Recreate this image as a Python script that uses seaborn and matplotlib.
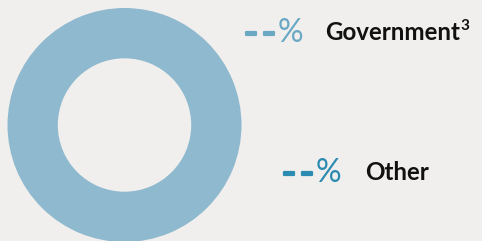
import matplotlib
matplotlib.use("Agg")
import matplotlib.pyplot as plt
import matplotlib.patheffects as pe
import seaborn as sns

# Data
categories = ["Government", "Other"]
category_notes = ["3", ""]
share_labels = ["--", "--"]          # values not yet available (placeholders)
ring_values = [1.0]                   # single placeholder ring
label_colors = ["#6aa8c4", "#2b8bb0"]
ring_color = "#8fb9cf"
bg = "#f0efed"

sns.set_theme(style="white", rc={"figure.facecolor": bg, "axes.facecolor": bg})
plt.rcParams["font.family"] = ["Lato", "DejaVu Sans"]

W, H = 482, 241
fig = plt.figure(figsize=(W / 100, H / 100), dpi=100)

cx, cy, r = 124.5, 125.0, 117.0
ax = fig.add_axes([(cx - r) / W, (H - cy - r) / H, 2 * r / W, 2 * r / H])
ax.pie(ring_values, colors=[ring_color], radius=1.0, startangle=90,
       wedgeprops=dict(width=0.43, edgecolor="none"))
ax.set_xlim(-1, 1)
ax.set_ylim(-1, 1)
ax.set_aspect("equal")
ax.axis("off")

rows_y = [33, 173]
dash_x = [245, 283]
pct_x = [278, 316]
cat_x = [325, 365]
for i, (cat, note, lab, col, y) in enumerate(zip(categories, category_notes,
                                                 share_labels, label_colors, rows_y)):
    fy = 1 - y / H
    x0 = dash_x[i]
    for k, ch in enumerate(lab):
        fig.text((x0 + k * 18) / W, fy, "\u2013", color=col, fontsize=18,
                 fontweight="bold", va="center", ha="left", family="DejaVu Sans",
                 path_effects=[pe.withStroke(linewidth=1.6, foreground=col)])
    fig.text(pct_x[i] / W, fy, "%", color=col, fontsize=23, fontweight="normal",
             va="center", ha="left")
    fig.text(cat_x[i] / W, fy, cat, color="#111111", fontsize=17.4,
             fontweight="bold", va="center", ha="left")
    if note:
        fig.text(460 / W, fy + 7 / H, note, color="#111111", fontsize=11,
                 fontweight="bold", va="center", ha="left")

fig.savefig("out.png", dpi=100, facecolor=bg)
